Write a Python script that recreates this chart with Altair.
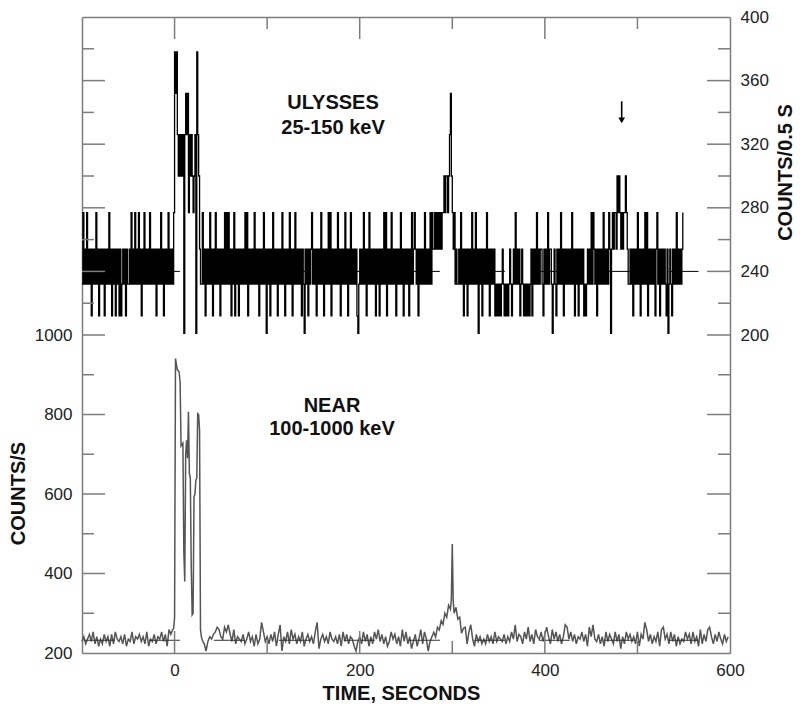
import altair as alt
import numpy as np
import pandas as pd

# ---------------- data ----------------
# Ulysses 25-150 keV, counts per 0.5 s, one value per second from t=-100 s.
# Each code is an index into ULY_LEVELS (the quantised count levels).
ULY_LEVELS = [201, 212, 232, 254, 277, 300, 326, 352, 378]
ULY_START = -100
uly_pre = ("2423242323" "1323242313" "2323132324" "2313231323" "1312323132"
           "2324232423" "2423132423" "2324232323" "1323242313" "2324232324")
uly_burst = "8786565656" "0676746565" "456086532"
uly_mid = ("2423132324" "2313242323" "1323242424" "2313241323" "1323232424"
           "1323232423" "2313232423" "0323132423" "2313232423" "1323242313"
           "2423232313" "2032313234" "2323132324" "2313232424" "1323232423"
           "1323242313" "2423232310" "2323242313" "2423232313" "2313232424"
           "1323242323" "1323242313" "2323132423" "4323132323" "2423232424" "3")
uly_peak2 = "3434343434" "4545545675" "434232"
uly_mid2 = ("2324231323" "1323242324" "2303231323" "2423132323" "1212121232"
            "1212123212" "3242323123" "2121212123" "1323242323" "3213232423"
            "3202321323" "2423132323" "2324231323" "1323231212" "3232424323"
            "1323232423")
uly_peak3 = "2324303434" "4354543434" "45432"
uly_end = "2323132324" "2313232424" "1323232313" "4231323232" "1302321323" "242323234"

# NEAR 100-1000 keV, counts/s.  Background: one code per 2 s, hex code -> NEAR_LEVELS
NEAR_LEVELS = [205, 211, 217, 223, 229, 235, 241, 247, 253, 259, 265, 271, 277]
near_pre = "4635748362" "5374627385" "4637254836" "5746382547" "3658472979"   # t=-100..-2
burst_t = [-1, 0, 1, 2, 3, 4, 5, 6, 7, 8, 9, 10, 11, 12, 13, 14, 15, 16, 17, 18,
           19, 20, 21, 22, 23, 24, 25, 26, 27, 28, 29, 30]
burst_v = [262, 289, 941, 925, 912, 911, 905, 880, 721, 725, 728, 454, 380, 700,
           735, 690, 807, 652, 640, 420, 296, 300, 593, 600, 634, 640, 802, 800,
           760, 259, 240, 232]
near_mid = ("3046578a96" "5a8b749365" "4735846273" "5c84637482" "7b06483957"
            "3648257463" "8c15746385" "4637284736" "5204638472" "6385947362"
            "4857362948" "3614725938" "5046")                                     # t=32..278
hump_t = [280, 282, 284, 286, 288, 290, 292, 294, 296, 298, 299, 300, 301, 302,
          304, 306, 308, 310, 312]
hump_v = [252, 240, 265, 258, 281, 272, 300, 290, 320, 310, 335, 474, 330, 300,
          315, 285, 290, 250, 262]
near_post = ("a38b527463" "5374638465" "4736485b47" "6385a47396" "5847a63958"
             "4736ba5847" "3658472a6b" "5473628475" "3847163857" "4638275c94"
             "7364829a57" "3847263548" "5738462937" "49a6374853" "746")          # t=314..598

# reference (background) lines and arrow
ref_top = {"x0": [-98], "x1": [566], "y": [240]}
ref_bot = {"x0": [-98], "x1": [566], "y": [232]}
arrow = {"t": [483], "top": [347], "tip": [335]}

# axis labels / ticks
TOP_LABELS = [200, 240, 280, 320, 360, 400]
TOP_MAJOR = [240, 280, 320, 360]
TOP_MINOR = [220, 260, 300, 340, 380]
BOT_LABELS = [200, 400, 600, 800, 1000]
BOT_MAJOR = [400, 600, 800, 1000]
BOT_MINOR = [300, 500, 700, 900]
X_LABELS = [0, 200, 400, 600]
X_MAJOR = [0, 200, 400]
X_MINOR = [100, 300, 500]

# ---------------- build tables ----------------
uly_codes = uly_pre + uly_burst + uly_mid + uly_peak2 + uly_mid2 + uly_peak3 + uly_end
uly_df = pd.DataFrame({"t": ULY_START + np.arange(len(uly_codes)),
                       "v": [ULY_LEVELS[int(c)] for c in uly_codes]})


def bg_rows(start, codes):
    return [(start + 2 * i, NEAR_LEVELS[int(c, 16)]) for i, c in enumerate(codes)]


near_rows = (bg_rows(-100, near_pre) + list(zip(burst_t, burst_v)) + bg_rows(32, near_mid)
             + list(zip(hump_t, hump_v)) + bg_rows(314, near_post))
near_df = pd.DataFrame(near_rows, columns=["t", "v"])

# ---------------- chart ----------------
W, H = 648, 636
GRAY = "#7d7d7d"
FONT = "Liberation Sans"
TL, TS = 23, 12  # tick lengths

xs = alt.Scale(domain=[-100, 600], nice=False, zero=False)
ys_top = alt.Scale(domain=[0, 400], nice=False, zero=False)
ys_bot = alt.Scale(domain=[200, 1800], nice=False, zero=False)


def yticks(vals, scale, x0, x1):
    return alt.Chart(pd.DataFrame({"v": vals})).mark_rule(color=GRAY, strokeWidth=1.5).encode(
        y=alt.Y("v:Q", scale=scale, axis=None), x=alt.value(x0), x2=alt.value(x1))


def xticks(vals, y0, y1):
    return alt.Chart(pd.DataFrame({"v": vals})).mark_rule(color=GRAY, strokeWidth=1.5).encode(
        x=alt.X("v:Q", scale=xs, axis=None), y=alt.value(y0), y2=alt.value(y1))


def label(text, x, y):
    return alt.Chart(pd.DataFrame({"s": [text]})).mark_text(
        font=FONT, fontSize=20, fontWeight="bold", color="#111", align="center", baseline="middle"
    ).encode(text="s:N", x=alt.value(x), y=alt.value(y))


uly_line = alt.Chart(uly_df).mark_line(interpolate="step-after", color="black", strokeWidth=1.3).encode(
    x=alt.X("t:Q", scale=xs, axis=alt.Axis(orient="top", labels=False, ticks=False, grid=False,
                                           domainColor=GRAY, domainWidth=1.5, title=None)),
    y=alt.Y("v:Q", scale=ys_top, axis=alt.Axis(
        orient="right", values=TOP_LABELS, format="d", ticks=False, tickSize=0, grid=False,
        labelPadding=10, domainColor=GRAY, domainWidth=1.5, labelOverlap=False,
        title="COUNTS/0.5 S", titleAngle=270, titleX=55, titleY=155, titleAlign="center",
        titleBaseline="middle", titleFontSize=20, titleFontWeight="bold")),
)

ref_top_rule = alt.Chart(pd.DataFrame(ref_top)).mark_rule(color="black", strokeWidth=1, strokeDash=[31, 34]).encode(
    x=alt.X("x0:Q", scale=xs, axis=None), x2="x1:Q", y=alt.Y("y:Q", scale=ys_top, axis=None))

arrow_df = pd.DataFrame(arrow)
arrow_shaft = alt.Chart(arrow_df).mark_rule(color="black", strokeWidth=1.6).encode(
    x=alt.X("t:Q", scale=xs, axis=None), y=alt.Y("top:Q", scale=ys_top, axis=None), y2="tip:Q")
arrow_head = alt.Chart(arrow_df).mark_point(shape="triangle-down", filled=True, size=45,
                                            color="black", opacity=1).encode(
    x=alt.X("t:Q", scale=xs, axis=None), y=alt.Y("tip:Q", scale=ys_top, axis=None))

near_line = alt.Chart(near_df).mark_line(color="#555555", strokeWidth=1.5).encode(
    x=alt.X("t:Q", scale=xs, axis=alt.Axis(
        orient="bottom", values=X_LABELS, format="d", ticks=False, tickSize=0, grid=False,
        labelPadding=9, labelFlush=False, labelOverlap=False, domainColor=GRAY, domainWidth=1.5,
        title="TIME, SECONDS", titleFontSize=20, titleFontWeight="bold", titleX=319, titleY=40,
        titleAlign="center", titleBaseline="middle")),
    y=alt.Y("v:Q", scale=ys_bot, axis=alt.Axis(
        orient="left", values=BOT_LABELS, format="d", ticks=False, tickSize=0, grid=False,
        labelPadding=10, domainColor=GRAY, domainWidth=1.5, labelOverlap=False,
        title="COUNTS/S", titleAngle=270, titleX=-64, titleY=476, titleAlign="center",
        titleBaseline="middle", titleFontSize=20, titleFontWeight="bold")),
)

ref_bot_rule = alt.Chart(pd.DataFrame(ref_bot)).mark_rule(color="#333", strokeWidth=1, strokeDash=[31, 34]).encode(
    x=alt.X("x0:Q", scale=xs, axis=None), x2="x1:Q", y=alt.Y("y:Q", scale=ys_bot, axis=None))

chart = alt.layer(
    uly_line, near_line, ref_top_rule, ref_bot_rule,
    yticks(TOP_MAJOR, ys_top, 0, TL), yticks(TOP_MINOR, ys_top, 0, TS),
    yticks(TOP_MAJOR, ys_top, W, W - TL), yticks(TOP_MINOR, ys_top, W, W - TS),
    yticks(BOT_MAJOR, ys_bot, 0, TL), yticks(BOT_MINOR, ys_bot, 0, TS),
    yticks(BOT_MAJOR, ys_bot, W, W - TL), yticks(BOT_MINOR, ys_bot, W, W - TS),
    xticks(X_MAJOR, 0, 22), xticks(X_MINOR, 0, TS),
    xticks(X_MAJOR, H, H - 22), xticks(X_MINOR, H, H - TS),
    arrow_shaft, arrow_head,
    label("ULYSSES", 251, 86), label("25-150 keV", 251, 111),
    label("NEAR", 250, 389), label("100-1000 keV", 250, 412),
).resolve_scale(y="independent").resolve_axis(
    x="independent", y="independent"
).properties(width=W, height=H, padding=0).configure_view(stroke=None).configure_axis(
    labelFont=FONT, titleFont=FONT, labelFontSize=17, labelColor="#222", titleColor="#111"
)

chart.save("out.html", embed_options={"renderer": "svg", "actions": False})
